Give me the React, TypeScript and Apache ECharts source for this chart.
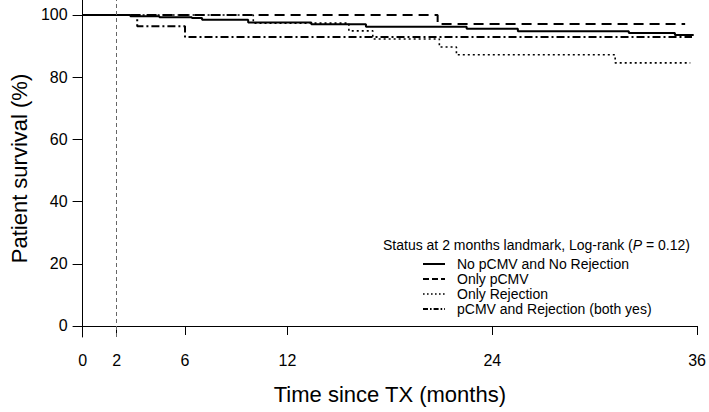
import React, { useEffect, useRef } from "react";
import * as echarts from "echarts";

// Kaplan-Meier step data (months, survival %)
const solidT = [0, 2.8, 4.5, 6.4, 7.0, 9.7, 13.4, 16.6, 22.5, 25.5, 32.0, 34.7, 35.8];
const solidS = [100, 99.6, 99.3, 99.0, 98.5, 97.6, 97.0, 96.2, 95.6, 94.8, 94.2, 93.6, 93.6];

const dashedT = [0, 20.8, 35.3];
const dashedS = [100, 97.1, 97.1];

const dottedT = [0, 10.0, 15.6, 17.0, 20.9, 21.9, 31.2, 35.6];
const dottedS = [100, 97.4, 94.9, 92.3, 89.7, 87.2, 84.6, 84.6];

const dashDotT = [0, 3.2, 6.0, 35.7];
const dashDotS = [100, 96.4, 92.9, 92.9];

const seriesNames = [
  "No pCMV and No Rejection",
  "Only pCMV",
  "Only Rejection",
  "pCMV and Rejection (both yes)",
];

const xTicks = [0, 2, 6, 12, 24, 36];
const yTicks = [0, 20, 40, 60, 80, 100];
const landmark = 2;

const font = "'Liberation Sans', Arial, Helvetica, sans-serif";

const pairs = (t: number[], s: number[]) => t.map((v, i) => [v, s[i]]);

// line styles used for the curves and the legend samples
const curveDash: any[] = ["solid", [10, 6], [2, 3], [8, 3, 2, 3]];
const curveWidth = [2, 2, 1.6, 2];
const legendDash: any[] = [null, [6, 3], [1.6, 2.4], [5, 2, 1.6, 2]];

export default function App() {
  const ref = useRef<HTMLDivElement>(null);
  useEffect(() => {
    if (!ref.current) return;
    const chart = echarts.init(ref.current, undefined, { renderer: "svg" });
    const datasets = [
      pairs(solidT, solidS),
      pairs(dashedT, dashedS),
      pairs(dottedT, dottedS),
      pairs(dashDotT, dashDotS),
    ];
    const series: any[] = datasets.map((data, i) => ({
      name: seriesNames[i],
      type: "line",
      step: "end",
      data,
      symbol: "none",
      lineStyle: { color: "#000", width: curveWidth[i], type: curveDash[i] },
      itemStyle: { color: "#000" },
      z: 3,
    }));
    series[0].markLine = {
      silent: true,
      symbol: "none",
      label: { show: false },
      lineStyle: { color: "#666", width: 1, type: [4, 3] },
      data: [{ xAxis: landmark }],
    };

    const legendTop = 264;
    const legendStep = 15;
    const legendGraphics: any[] = [];
    seriesNames.forEach((name, i) => {
      const y = legendTop + i * legendStep;
      legendGraphics.push({
        type: "line",
        shape: { x1: 423, y1: y, x2: 445, y2: y },
        style: {
          stroke: "#000",
          lineWidth: i === 2 ? 1.6 : 2,
          lineDash: legendDash[i] || undefined,
        },
      });
      legendGraphics.push({
        type: "text",
        x: 457,
        y,
        style: {
          text: name,
          fontFamily: font,
          fontSize: 14,
          fill: "#000",
          verticalAlign: "middle",
          align: "left",
        },
      });
    });

    chart.setOption({
      animation: false,
      backgroundColor: "#fff",
      grid: { left: 72.7, right: 9, top: 0, bottom: 75 },
      xAxis: {
        type: "value",
        min: 0,
        max: 36,
        name: "Time since TX (months)",
        nameLocation: "middle",
        nameGap: 46,
        nameTextStyle: { fontFamily: font, fontSize: 22, color: "#000" },
        axisLine: { show: true, lineStyle: { color: "#000", width: 1 } },
        axisTick: { show: true, length: 9, lineStyle: { color: "#000" }, customValues: xTicks },
        axisLabel: { color: "#000", fontFamily: font, fontSize: 16, margin: 15, customValues: xTicks },
        splitLine: { show: false },
      },
      yAxis: {
        type: "value",
        min: -3.54,
        max: 104.82,
        name: "Patient survival (%)",
        nameLocation: "middle",
        nameGap: 46,
        nameTextStyle: { fontFamily: font, fontSize: 22, color: "#000" },
        axisLine: { show: true, lineStyle: { color: "#000", width: 1 } },
        axisTick: { show: true, length: 10, lineStyle: { color: "#000" }, customValues: yTicks },
        axisLabel: { color: "#000", fontFamily: font, fontSize: 16, margin: 15, customValues: yTicks },
        splitLine: { show: false },
      },
      graphic: [
        {
          type: "text",
          x: 383,
          y: 245,
          style: {
            text: "{a|Status at 2 months landmark, Log-rank (}{i|P}{a| = 0.12)}",
            verticalAlign: "middle",
            rich: {
              a: { fontFamily: font, fontSize: 14, fill: "#000" },
              i: { fontFamily: font, fontSize: 14, fontStyle: "italic", fill: "#000" },
            },
          },
        },
        ...legendGraphics,
      ],
      series,
    });
    return () => chart.dispose();
  }, []);
  return (
    <div
      ref={ref}
      style={{ position: "fixed", left: 0, top: 0, width: 709, height: 412, background: "#fff" }}
    />
  );
}
